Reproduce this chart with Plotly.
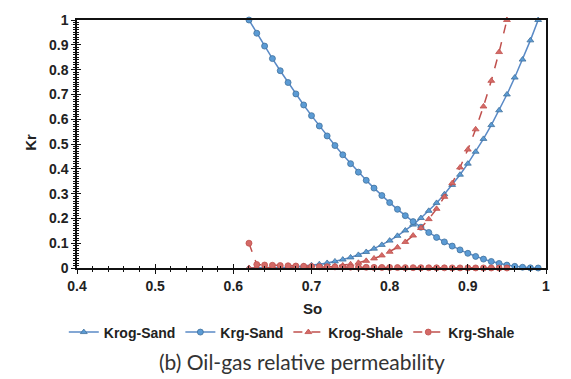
import plotly.graph_objects as go

# ---- data ----
so_sand = [0.62, 0.63, 0.64, 0.65, 0.66, 0.67, 0.68, 0.69, 0.70, 0.71, 0.72, 0.73, 0.74,
           0.75, 0.76, 0.77, 0.78, 0.79, 0.80, 0.81, 0.82, 0.83, 0.84, 0.85, 0.86, 0.87,
           0.88, 0.89, 0.90, 0.91, 0.92, 0.93, 0.94, 0.95, 0.96, 0.97, 0.98, 0.99]
krog_sand = [0.0001, 0.0002, 0.0005, 0.0011, 0.0021, 0.0034, 0.0054, 0.0079, 0.0112, 0.0153,
             0.0204, 0.0266, 0.0340, 0.0427, 0.0529, 0.0646, 0.0780, 0.0932, 0.1104, 0.1297,
             0.1512, 0.1750, 0.2015, 0.2305, 0.2624, 0.2972, 0.3350, 0.3762, 0.4207, 0.4688,
             0.5206, 0.5762, 0.6359, 0.6997, 0.7679, 0.8405, 0.9179, 1.0]
krg_sand = [1.0, 0.9467, 0.8948, 0.8444, 0.7955, 0.7480, 0.7020, 0.6574, 0.6143, 0.5727,
            0.5325, 0.4938, 0.4565, 0.4207, 0.3864, 0.3535, 0.3221, 0.2922, 0.2637, 0.2367,
            0.2111, 0.1870, 0.1644, 0.1432, 0.1234, 0.1052, 0.0884, 0.0730, 0.0592, 0.0467,
            0.0358, 0.0263, 0.0183, 0.0117, 0.0066, 0.0029, 0.0007, 0.0]

so_shale = [0.62, 0.63, 0.64, 0.65, 0.66, 0.67, 0.68, 0.69, 0.70, 0.71, 0.72, 0.73, 0.74,
            0.75, 0.76, 0.77, 0.78, 0.79, 0.80, 0.81, 0.82, 0.83, 0.84, 0.85, 0.86, 0.87,
            0.88, 0.89, 0.90, 0.91, 0.92, 0.93, 0.94, 0.95]
krog_shale = [0.0, 0.0, 0.0, 0.0, 0.0001, 0.0002, 0.0005, 0.0009, 0.0017, 0.0029, 0.0046,
              0.0071, 0.0105, 0.0151, 0.0211, 0.0288, 0.0385, 0.0505, 0.0654, 0.0834, 0.1050,
              0.1308, 0.1613, 0.1970, 0.2386, 0.2868, 0.3421, 0.4053, 0.4774, 0.5591, 0.6512,
              0.7548, 0.8707, 1.0]
krg_shale = [0.10, 0.014, 0.012, 0.011, 0.010, 0.009, 0.008, 0.007, 0.006, 0.0055, 0.005,
             0.0045, 0.004, 0.0035, 0.003, 0.0028, 0.0025, 0.0022, 0.002, 0.0018, 0.0015,
             0.0013, 0.0011, 0.001, 0.0008, 0.0007, 0.0005, 0.0004, 0.0003, 0.0002, 0.0001,
             0.0001, 0.0, 0.0]

x_ticks = [0.4, 0.5, 0.6, 0.7, 0.8, 0.9, 1.0]
x_tick_text = ["0.4", "0.5", "0.6", "0.7", "0.8", "0.9", "1"]
y_ticks = [0, 0.1, 0.2, 0.3, 0.4, 0.5, 0.6, 0.7, 0.8, 0.9, 1.0]
y_tick_text = ["0", "0.1", "0.2", "0.3", "0.4", "0.5", "0.6", "0.7", "0.8", "0.9", "1"]

BLUE = "#5A8AC6"
BLUE_MK = "#5B9BD5"
BLUE_EDGE = "#41719C"
RED = "#C0504D"
RED_MK = "#D46A67"

FONT = "Liberation Sans, Arial, sans-serif"

fig = go.Figure()
fig.add_trace(go.Scatter(x=so_sand, y=krog_sand, name="Krog-Sand", mode="lines+markers",
                         line=dict(color=BLUE, width=1.5),
                         marker=dict(symbol="triangle-up", size=6, color=BLUE_MK,
                                     line=dict(color=BLUE_EDGE, width=0.8)),
                         cliponaxis=False))
fig.add_trace(go.Scatter(x=so_sand, y=krg_sand, name="Krg-Sand", mode="lines+markers",
                         line=dict(color=BLUE, width=1.5),
                         marker=dict(symbol="circle", size=6, color=BLUE_MK,
                                     line=dict(color=BLUE_EDGE, width=0.8)),
                         cliponaxis=False))
fig.add_trace(go.Scatter(x=so_shale, y=krog_shale, name="Krog-Shale", mode="lines+markers",
                         line=dict(color=RED, width=1.5, dash="dash"),
                         marker=dict(symbol="triangle-up", size=6, color=RED_MK,
                                     line=dict(color=RED, width=0.8)),
                         cliponaxis=False))
fig.add_trace(go.Scatter(x=so_shale, y=krg_shale, name="Krg-Shale", mode="lines+markers",
                         line=dict(color=RED, width=1.5, dash="dash"),
                         marker=dict(symbol="circle", size=6, color=RED_MK,
                                     line=dict(color=RED, width=0.8)),
                         cliponaxis=False))
# empty helper trace so the overlay axes (inner half of the crossing ticks) get drawn
fig.add_trace(go.Scatter(x=[None], y=[None], xaxis="x2", yaxis="y2", showlegend=False,
                         hoverinfo="skip"))

tickfont = dict(family=FONT, size=14, color="#222222", weight="bold")

fig.update_layout(
    width=571, height=379,
    margin=dict(l=77, r=25, t=12, b=111, pad=0),
    paper_bgcolor="white", plot_bgcolor="white",
    showlegend=True,
    legend=dict(orientation="h", x=0.458, xanchor="center", y=-0.26, yanchor="middle",
                font=dict(family=FONT, size=14, color="#222222", weight="bold"),
                bgcolor="rgba(0,0,0,0)", itemwidth=30),
    xaxis=dict(range=[0.4, 1.0], tickvals=x_ticks, ticktext=x_tick_text,
               showline=True, linecolor="#111111", linewidth=1.5, mirror=True,
               ticks="outside", ticklen=4, tickwidth=1.3, tickcolor="#111111",
               minor=dict(dtick=0.02, tick0=0.4, ticks="outside", ticklen=2,
                          tickwidth=1, tickcolor="#111111", showgrid=False),
               showgrid=False, zeroline=False, tickfont=tickfont),
    yaxis=dict(range=[0, 1.0], tickvals=y_ticks, ticktext=y_tick_text,
               showline=True, linecolor="#111111", linewidth=1.5, mirror=True,
               ticks="outside", ticklen=4, tickwidth=1.3, tickcolor="#111111",
               minor=dict(dtick=0.01, tick0=0, ticks="outside", ticklen=2,
                          tickwidth=1, tickcolor="#111111", showgrid=False),
               showgrid=False, zeroline=False, tickfont=tickfont),
    xaxis2=dict(range=[0.4, 1.0], overlaying="x", anchor="y2", side="bottom",
                tickvals=x_ticks, showticklabels=False, showline=False,
                ticks="inside", ticklen=4, tickwidth=1.3, tickcolor="#111111",
                minor=dict(dtick=0.02, tick0=0.4, ticks="inside", ticklen=2,
                           tickwidth=1, tickcolor="#111111", showgrid=False),
                showgrid=False, zeroline=False),
    yaxis2=dict(range=[0, 1.0], overlaying="y", anchor="x2", side="left",
                tickvals=y_ticks, showticklabels=False, showline=False,
                ticks="inside", ticklen=4, tickwidth=1.3, tickcolor="#111111",
                minor=dict(dtick=0.01, tick0=0, ticks="inside", ticklen=2,
                           tickwidth=1, tickcolor="#111111", showgrid=False),
                showgrid=False, zeroline=False),
    annotations=[
        dict(text="So", x=0.503, y=-0.165, xref="paper", yref="paper",
             xanchor="center", yanchor="middle", showarrow=False,
             font=dict(family=FONT, size=15, color="#222222", weight="bold")),
        dict(text="Kr", x=-0.099, y=0.507, xref="paper", yref="paper", textangle=-90,
             xanchor="center", yanchor="middle", showarrow=False,
             font=dict(family=FONT, size=15, color="#222222", weight="bold")),
        dict(text="(b) Oil-gas relative permeability", x=0.48, y=-0.375,
             xref="paper", yref="paper", xanchor="center", yanchor="middle",
             showarrow=False, font=dict(family="Lato, Noto Sans, sans-serif",
                                        size=21, color="#333333")),
    ],
)

fig.write_html("out.html")
